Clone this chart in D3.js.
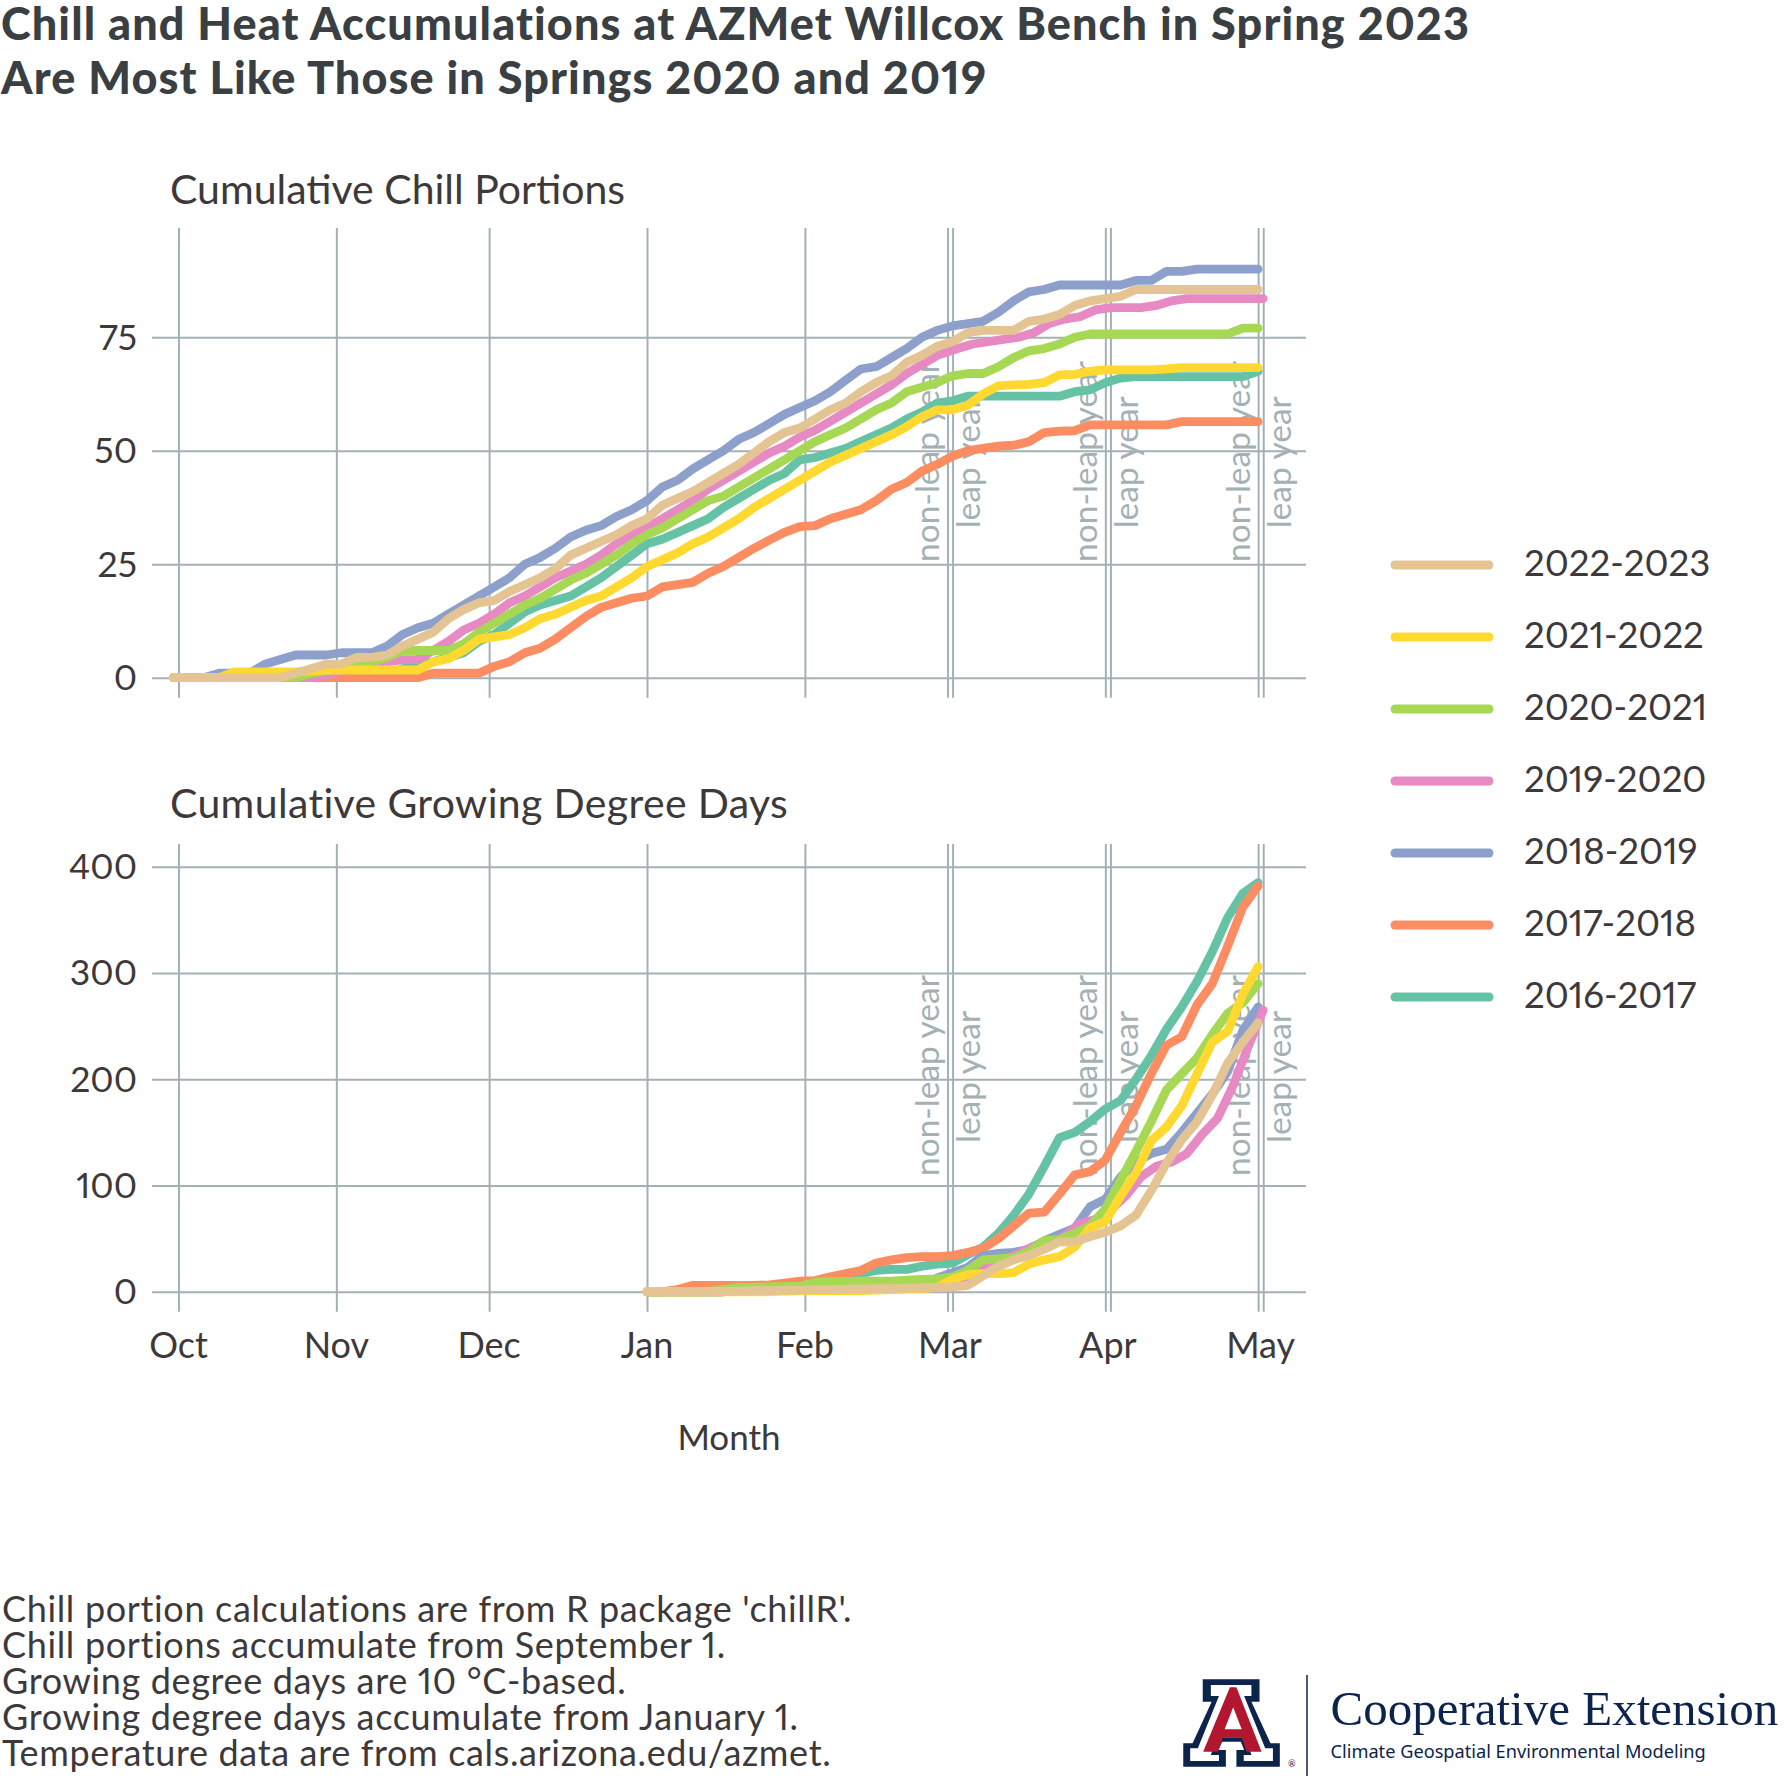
<!DOCTYPE html>
<html>
<head>
<meta charset="utf-8">
<script src="https://cdn.jsdelivr.net/npm/d3@7"></script>
<style>
  html, body { margin: 0; padding: 0; background: #fff; }
  text { font-family: Lato, "Open Sans", sans-serif; fill: #3d393a; font-variant-numeric: proportional-nums; }
</style>
</head>
<body>
<svg id="chart" width="1786" height="1778"></svg>
<script>
// season names, oldest first so the newest season is drawn on top
const seasons = ['2016-2017', '2017-2018', '2018-2019', '2019-2020', '2020-2021', '2021-2022', '2022-2023'];

// months on the x axis, as days after Oct 1 of a non-leap season
const monthLabels = ['Oct', 'Nov', 'Dec', 'Jan', 'Feb', 'Mar', 'Apr', 'May'];
const monthDays = [0, 31, 61, 92, 123, 151, 182, 212];
const leapDays = [152, 183, 213];

const chillTicks = [0, 25, 50, 75];
const gddTicks = [0, 100, 200, 300, 400];

// chill portions read every 3 days, from Sep 30
const chillDays = d3.range(-1, 213, 3);
const chill2016 = [0,0,0,0,0,0,0,0,0,0,0,0,
  0,0.5,1,2,3,3.5,4.5,5.5,8,9.5,12,14.5,
  16,17,18,20,22,24.5,27,29.5,30.5,32,33.5,35,
  37.5,39.5,41.5,43.5,45,48,48.5,49.5,50.5,52,53.5,55,
  57,58.5,60.5,61,62,62,62,62,62,62,62,63,
  63.4,65,66,66.3,66.3,66.3,66.3,66.3,66.3,66.3,66.3,67.5];
const chill2017 = [0,0,0,0,0,0,0,0,0,0,0,0,
  0,0,0,0,0,1,1,1,1,2.5,3.5,5.5,
  6.5,8.5,11,13.5,15.5,16.5,17.5,18,20,20.5,21,23,
  24.5,26.5,28.5,30.3,32,33.3,33.5,35,36,37,39,41.5,
  43,45.5,47,48.8,50,50.5,51,51.2,52,54,54.3,54.4,
  55.7,55.7,55.7,55.7,55.7,55.7,56.4,56.4,56.4,56.4,56.4,56.4];
const chill2018 = [0,0,0,1,1,1,3,4,5,5,5,5.5,
  5.5,5.5,7,9.5,11,12,14,16,18,20,22,25,
  26.5,28.5,31,32.5,33.5,35.5,37,39,42,43.5,46,48,
  50,52.5,54,56,58,59.5,61,63,65.5,68,68.5,70.5,
  72.5,75,76.5,77.5,78,78.5,80.5,83,85,85.5,86.5,86.5,
  86.5,86.5,86.5,87.5,87.5,89.5,89.5,90,90,90,90,90];
const chill2019 = [0,0,0,0,0,0,0,0,0,0,0.5,1.5,
  3,3,3.5,4,4,6,8,10.5,12,14,16.5,18,
  20,22,23.5,25,27,29.5,31.5,33,35,37,39,41.5,
  43.5,45.5,47.5,49.5,51,53,54.5,56.5,58.5,60.5,62.5,64.5,
  67,69,71,72.5,73.5,74,74.5,75,76,78,79,79.5,
  81,81.5,81.5,81.5,82,83,83.5,83.5,83.5,83.5,83.5,83.5];
const chill2020 = [0,0,0,0,0,0,0,0,0,1,1.5,2.5,
  3,3.5,4.5,6,6,6,6,7.5,10,12,14,16,
  17.5,19.5,21.5,23,25,27,29.5,31.5,33,35,37,39,
  40,42,44,46,48,50,52,53.5,55,57,59,60.5,
  63,64,65,66.5,67,67,68.5,70.5,72,72.5,73.5,75,
  75.7,75.7,75.7,75.7,75.7,75.7,75.7,75.7,75.7,75.7,77,77];
const chill2021 = [0,0,0,0,1.3,1.3,1.3,1.3,1.3,1.5,1.7,1.7,
  1.7,1.7,1.7,1.7,1.7,3.5,4.2,6,8.5,9,9.5,11,
  13,14,15.5,17,18,20,22,24.5,26,27.5,29.5,31,
  33,35,37.5,39.5,41.5,43.5,45.5,47.5,49,50.5,52,53.5,
  55.3,57.5,59,59,60,62.5,64.3,64.5,64.6,65,66.7,66.8,
  67.5,67.8,67.8,67.8,67.8,68,68.3,68.3,68.3,68.3,68.3,68.3];
const chill2022 = [0,0,0,0,0,0,0,0,1,2,3,3,
  4.5,4.5,5,7,8.5,10,13,15,16.5,17,19,20.5,
  22,24,27,28.5,30,31.5,33.5,35,38,39.5,41,43,
  45,47,49.5,52,54,55,57,59,60.5,63,65,66.5,
  69.5,71,73,74,76,76.5,76.5,76.5,78.5,79,80,82,
  83,83.5,84,85.5,85.5,85.5,85.5,85.5,85.5,85.5,85.5,85.5];

// growing degree days read every 3 days, from Jan 1
const gddDays = d3.range(92, 213, 3);
const gdd2016 = [0,0,0,0,0,0,0.5,1,1,2,5,8,9,13,17,20,21,21,24,26,27,35,42,55,72,92,118,145,150,160,172,180,200,222,247,268,292,320,352,375,385];
const gdd2017 = [0,0,2,6,6,6,6,6,6.5,8,10,10.5,14,17,20,27,30,32,33,33,34,37,41,50,62,74,75,92,110,113,124,150,175,205,232,240,270,290,325,362,382];
const gdd2018 = [0,0,0,0,0,0,0.5,1,1,1.5,2,2,2,2.5,3,3,3.5,4,6,13,18,23,34,36,37,40,48,54,60,80,87,108,122,130,134,150,168,186,207,246,268];
const gdd2019 = [0,0,0,0,0,0,1,1,1,1.5,2,2,2,2.5,3,3,3.5,4,5,6,10,14,25,30,36,43,46,52,64,68,77,90,108,118,122,130,148,163,193,230,265];
const gdd2020 = [0,0,0,0,0,2,4,4,4.5,5,5,9,9.5,9.5,10,10,10,11,11.5,12,14,20,30,31,32,38,48,49,55,62,78,105,132,160,190,205,220,242,262,272,290];
const gdd2021 = [0,0,0,0,0,0,0,0,0,0.5,1,1,1,1,1,1.5,2,2.5,3,4,12,16,17,17,18,26,30,33,42,60,66,90,112,142,155,175,205,235,245,280,306];
const gdd2022 = [0,0,0,0,0,0.5,0.5,1,1,1.5,1.5,2,2,2.5,2.5,3,3,3.5,3.5,4,4.5,6,15,24,30,34,40,47,47,52,56,62,72,95,121,143,160,185,215,235,253];

const chillValues = [chill2016, chill2017, chill2018, chill2019, chill2020, chill2021, chill2022];
const gddValues = [gdd2016, gdd2017, gdd2018, gdd2019, gdd2020, gdd2021, gdd2022];

const colors = d3.schemeSet2.slice(0, 7);
const gridColor = '#a4b1b4';
const navy = '#0c234b';

const svg = d3.select('#chart');

// title
const titleLines = ['Chill and Heat Accumulations at AZMet Willcox Bench in Spring 2023',
  'Are Most Like Those in Springs 2020 and 2019'];
svg.selectAll('text.title')
  .data(titleLines)
  .enter()
  .append('text')
  .attr('class', 'title')
  .attr('x', 1)
  .attr('y', (d, i) => 40 + i * 54)
  .attr('font-size', 45)
  .attr('font-weight', 900)
  .attr('letter-spacing', 1.1)
  .style('fill', '#3a3f43')
  .text(d => d);

const x = d3.scaleLinear().domain([-5.2, 221.4]).range([152, 1306]);

function drawPanel(opts) {
  const y = d3.scaleLinear().domain(opts.domain).range([opts.bottom, opts.top]);
  const g = svg.append('g');

  g.append('text')
    .attr('x', 170)
    .attr('y', opts.titleY)
    .attr('font-size', 41)
    .attr('letter-spacing', opts.titleSpacing)
    .text(opts.title);

  // grid comes from the axes, tick lines stretched over the panel
  const yAxis = g.append('g')
    .attr('transform', 'translate(152,0)')
    .call(d3.axisRight(y).tickValues(opts.ticks).tickSize(1154).tickFormat(''));
  const xAxis = g.append('g')
    .attr('transform', 'translate(0,' + opts.top + ')')
    .call(d3.axisBottom(x).tickValues(monthDays.concat(leapDays)).tickSize(opts.bottom - opts.top).tickFormat(''));
  [yAxis, xAxis].forEach(a => {
    a.select('.domain').remove();
    a.selectAll('line').attr('stroke', gridColor).attr('stroke-width', 2);
  });

  g.selectAll('text.ylab')
    .data(opts.ticks)
    .enter()
    .append('text')
    .attr('class', 'ylab')
    .attr('x', 137)
    .attr('y', d => y(d) + 12.5)
    .attr('text-anchor', 'end')
    .attr('font-size', 35.5)
    .text(d => d);

  // non-leap / leap markers sit under the data lines
  const markFor = [monthDays.slice(5), leapDays];
  markFor[0].forEach(d => g.append('text')
    .attr('transform', 'translate(' + (x(d) - 8.4) + ',' + y(opts.nonLeapAt) + ') rotate(-90)')
    .attr('font-size', 33.5)
    .style('fill', gridColor)
    .text('non-leap year'));
  markFor[1].forEach(d => g.append('text')
    .attr('transform', 'translate(' + (x(d) + 27.4) + ',' + y(opts.leapAt) + ') rotate(-90)')
    .attr('font-size', 33.5)
    .style('fill', gridColor)
    .text('leap year'));

  const line = d3.line()
    .x(d => x(d[0]))
    .y(d => y(d[1]));

  seasons.forEach((s, i) => {
    // the leap season runs one day later from March on
    const pts = opts.days.map((d, j) => [s === '2019-2020' && d >= 151 ? d + 1 : d, opts.values[i][j]]);
    g.append('path')
      .attr('d', line(pts))
      .attr('fill', 'none')
      .attr('stroke', colors[i])
      .attr('stroke-width', 8.8)
      .attr('stroke-linecap', 'round')
      .attr('stroke-linejoin', 'round');
  });
}

drawPanel({
  title: 'Cumulative Chill Portions', titleY: 204, titleSpacing: 0,
  top: 228, bottom: 697.7, domain: [-4.4, 99.05], ticks: chillTicks,
  days: chillDays, values: chillValues, nonLeapAt: 25.5, leapAt: 32.9
});
drawPanel({
  title: 'Cumulative Growing Degree Days', titleY: 818, titleSpacing: 0.35,
  top: 844, bottom: 1311.7, domain: [-18.8, 421.4], ticks: gddTicks,
  days: gddDays, values: gddValues, nonLeapAt: 108.9, leapAt: 140
});

// month labels, Mar to May centred between their two lines
svg.selectAll('text.month')
  .data(monthLabels)
  .enter()
  .append('text')
  .attr('class', 'month')
  .attr('x', (d, i) => i < 5 ? x(monthDays[i]) : (x(monthDays[i]) + x(leapDays[i - 5])) / 2)
  .attr('y', 1358)
  .attr('text-anchor', 'middle')
  .attr('font-size', 36)
  .text(d => d);

svg.append('text')
  .attr('x', 729)
  .attr('y', 1450)
  .attr('text-anchor', 'middle')
  .attr('font-size', 35)
  .text('Month');

// legend, newest season first
const legendSeasons = seasons.slice().reverse();
const legendY = d3.scalePoint().domain(legendSeasons).range([565, 997]);
const legend = svg.selectAll('g.legend')
  .data(legendSeasons)
  .enter()
  .append('g')
  .attr('class', 'legend')
  .attr('transform', d => 'translate(0,' + legendY(d) + ')');
legend.append('line')
  .attr('x1', 1395)
  .attr('x2', 1489)
  .attr('stroke', d => colors[seasons.indexOf(d)])
  .attr('stroke-width', 9)
  .attr('stroke-linecap', 'round');
legend.append('text')
  .attr('x', 1524)
  .attr('y', 11)
  .attr('font-size', 36.6)
  .text(d => d);

// notes
const notes = ["Chill portion calculations are from R package 'chillR'.",
  'Chill portions accumulate from September 1.',
  'Growing degree days are 10 °C-based.',
  'Growing degree days accumulate from January 1.',
  'Temperature data are from cals.arizona.edu/azmet.'];
svg.selectAll('text.note')
  .data(notes)
  .enter()
  .append('text')
  .attr('class', 'note')
  .attr('x', 2)
  .attr('y', (d, i) => 1622 + i * 36)
  .attr('font-size', 36)
  .attr('letter-spacing', 0.65)
  .text(d => d);

// logo
const logo = svg.append('g').attr('transform', 'translate(1150,1650) scale(0.4057,0.3333)');
logo.append('path').attr('fill', navy)
  .attr('d', 'M130 88H270V155H250L297 280H320V350H213V300H232L224 275H178L168 300H187V350H82V280H105L152 155H130Z');
logo.append('path').attr('fill', '#fff')
  .attr('d', 'M150 105H250V138H232L284 295H303V333H231V315H250L236 262H165L150 315H170V333H99V295H118L170 138H150Z');
logo.append('path').attr('fill', '#b3162f').attr('fill-rule', 'evenodd')
  .attr('d', 'M197 112H213L275 305H238L226 262H180L168 305H131ZM205 172L184 238H226Z');
svg.append('line')
  .attr('x1', 1307).attr('x2', 1307).attr('y1', 1675).attr('y2', 1776)
  .attr('stroke', navy).attr('stroke-width', 1.5);
svg.append('text')
  .attr('x', 1288).attr('y', 1767).attr('font-size', 9)
  .style('fill', navy).text('®');
svg.append('text')
  .attr('x', 1330.5).attr('y', 1725).attr('font-size', 49)
  .style('font-family', '"Liberation Serif", serif').style('fill', navy)
  .text('Cooperative Extension');
svg.append('text')
  .attr('x', 1330.5).attr('y', 1758).attr('font-size', 18.2)
  .style('font-family', '"Noto Sans", sans-serif').style('fill', navy)
  .text('Climate Geospatial Environmental Modeling');
</script>
</body>
</html>
